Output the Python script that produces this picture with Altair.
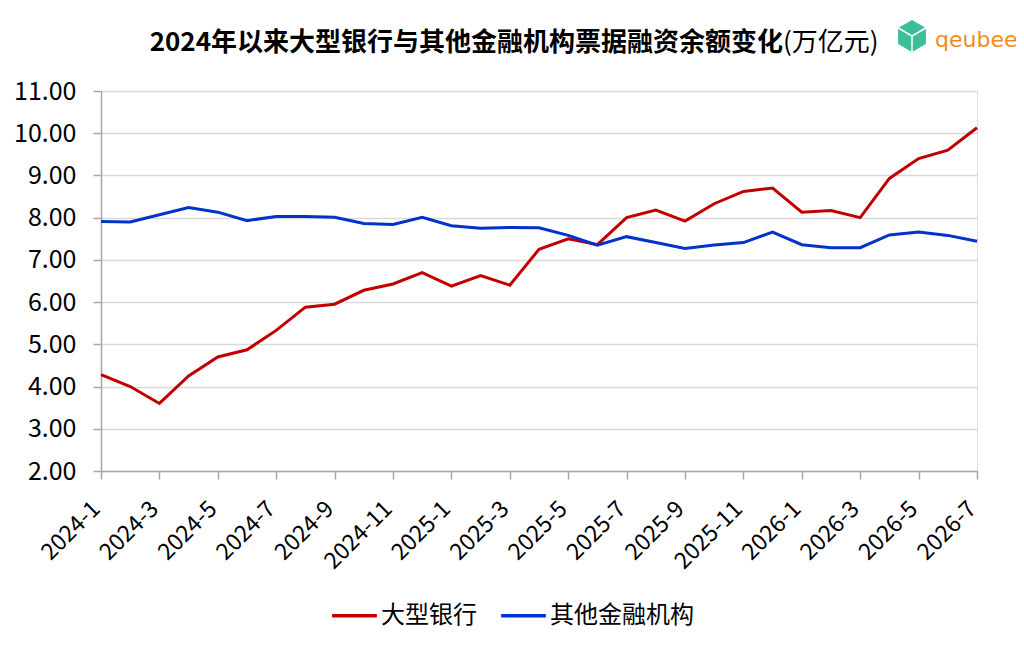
import altair as alt
import pandas as pd

months = [f"{y}-{m}" for y in (2024, 2025, 2026) for m in range(1, 13)][:31]
big_banks = [4.28, 4.00, 3.60, 4.25, 4.70, 4.87, 5.33, 5.88, 5.95, 6.28, 6.43, 6.70,
             6.38, 6.63, 6.40, 7.25, 7.50, 7.36, 8.00, 8.18, 7.92, 8.33, 8.62, 8.70,
             8.13, 8.17, 8.00, 8.93, 9.40, 9.60, 10.13]
other_inst = [7.91, 7.90, 8.07, 8.24, 8.13, 7.93, 8.03, 8.03, 8.01, 7.86, 7.84, 8.01,
              7.81, 7.75, 7.77, 7.76, 7.58, 7.35, 7.55, 7.41, 7.27, 7.35, 7.41, 7.66,
              7.36, 7.29, 7.29, 7.59, 7.66, 7.58, 7.44]
series_names = ["大型银行", "其他金融机构"]
colors = ["#C00000", "#0033CC"]
y_ticks = [2, 3, 4, 5, 6, 7, 8, 9, 10, 11]
title_main = "2024年以来大型银行与其他金融机构票据融资余额变化"
title_unit = "(万亿元)"
logo_text = "qeubee"

rows = []
for i, m in enumerate(months):
    rows.append({"month": m, "series": series_names[0], "value": big_banks[i]})
    rows.append({"month": m, "series": series_names[1], "value": other_inst[i]})
df = pd.DataFrame(rows)

FONT = "Noto Sans CJK SC"

lines = alt.Chart(df).mark_line(strokeWidth=3).encode(
    x=alt.X("month:O", sort=months, title=None,
            scale=alt.Scale(type="point", padding=0),
            axis=alt.Axis(values=months[::2], labelAngle=-45, labelFontSize=23,
                          labelColor="#000000", labelFont=FONT, tickSize=8,
                          tickColor="#A6A6A6", domainColor="#A6A6A6", domainWidth=1.5,
                          tickWidth=1.5, labelPadding=26, labelBaseline="middle",
                          labelOffset=-5, grid=False)),
    y=alt.Y("value:Q", title=None,
            scale=alt.Scale(domain=[2, 11], nice=False, zero=False),
            axis=alt.Axis(values=y_ticks, format=".2f", labelFontSize=25,
                          labelColor="#000000", labelFont=FONT, tickSize=8,
                          tickColor="#A6A6A6", domainColor="#A6A6A6", domainWidth=1.5,
                          tickWidth=1.5, gridColor="#D9D9D9", gridWidth=1.5,
                          labelPadding=17)),
    color=alt.Color("series:N", sort=series_names,
                    scale=alt.Scale(domain=series_names, range=colors),
                    legend=alt.Legend(title=None, orient="none", direction="horizontal",
                                      legendX=229, legendY=500, symbolType="stroke",
                                      symbolStrokeWidth=3.5, symbolSize=2000,
                                      labelFontSize=24, labelFont=FONT,
                                      labelColor="#000000", columnPadding=17,
                                      labelOffset=2)),
)

tdf = pd.DataFrame({"main": [title_main], "unit": [title_unit], "logo": [logo_text]})
t_main = alt.Chart(tdf).mark_text(font=FONT, fontSize=26, fontWeight="bold",
                                  align="right", baseline="middle", color="#000000").encode(
    text="main:N", x=alt.value(682), y=alt.value(-48))
t_unit = alt.Chart(tdf).mark_text(font=FONT, fontSize=26, fontWeight="normal",
                                  align="left", baseline="middle", color="#000000").encode(
    text="unit:N", x=alt.value(682), y=alt.value(-48))
logo = alt.Chart(tdf).mark_text(font="DejaVu Sans", fontSize=22, align="left",
                                baseline="middle", color="#F08C1E").encode(
    text="logo:N", x=alt.value(834), y=alt.value(-51))
cube = alt.Chart(tdf).mark_point(
    shape="M0,-1L0.866,-0.5L0.866,0.5L0,1L-0.866,0.5L-0.866,-0.5Z"
          "M0,0L0,1M0,0L0.866,-0.5M0,0L-0.866,-0.5",
    filled=True, size=1150, fill="#3DBE9A", stroke="#FFFFFF", strokeWidth=1.5,
    opacity=1).encode(
    x=alt.value(811), y=alt.value(-55))

chart = alt.layer(lines, t_main, t_unit, cube, logo).properties(
    width=876, height=380,
    autosize=alt.AutoSizeParams(type="none"),
    padding={"left": 93, "top": 83, "right": 39, "bottom": 171},
).configure_view(stroke=None).configure(background="#FFFFFF")

chart.save("out.html", embed_options={"renderer": "svg", "actions": False})
